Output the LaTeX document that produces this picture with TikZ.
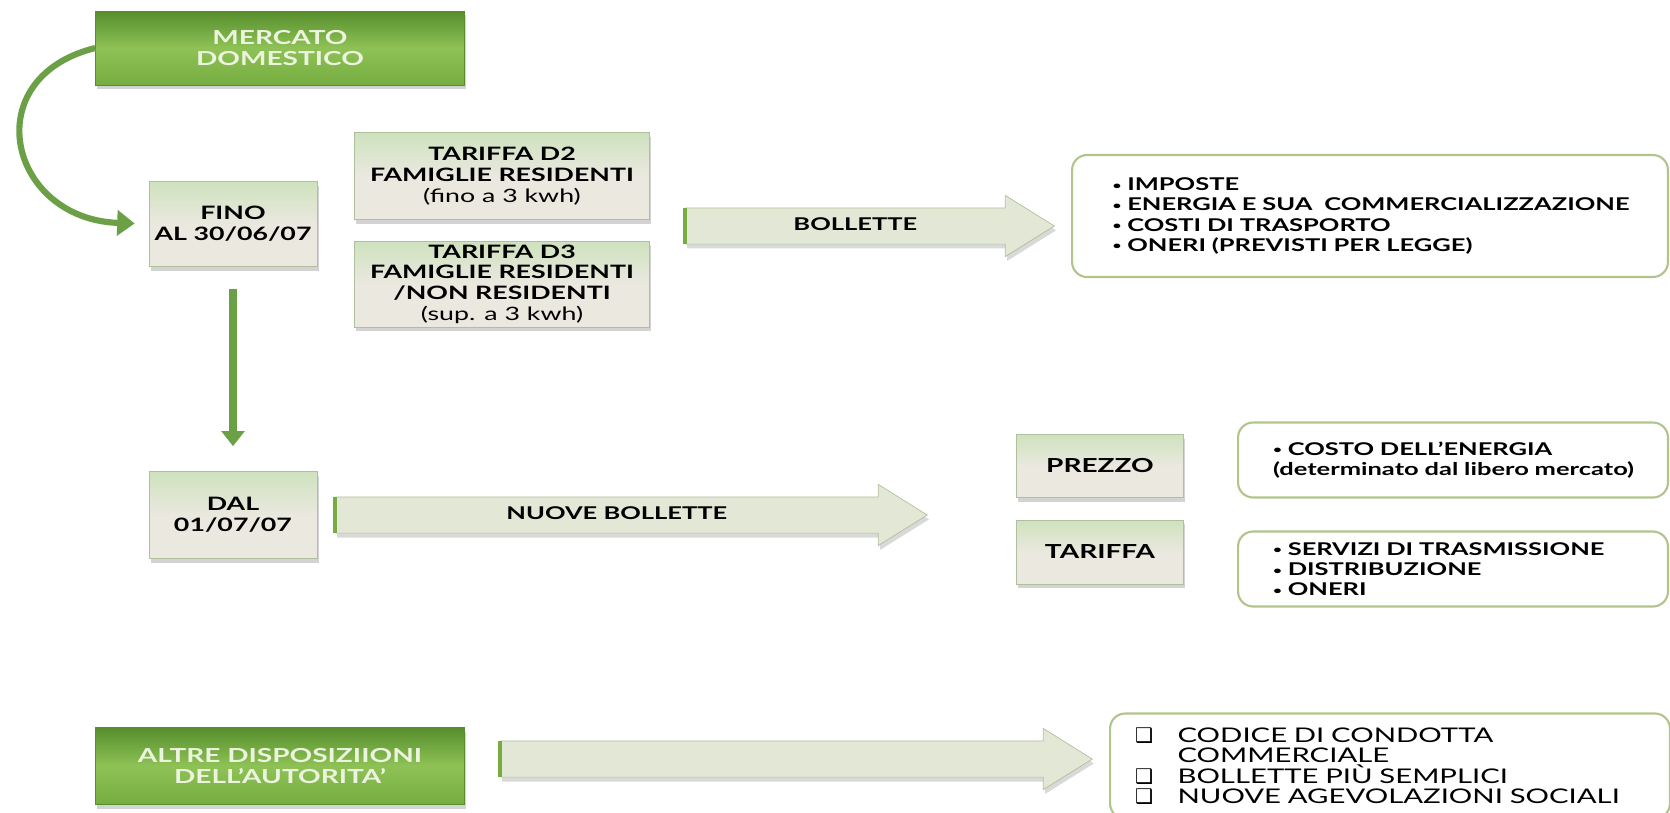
\documentclass[tikz,border=0pt]{standalone}
\usepackage{fontspec}
\usepackage{graphicx}
\setmainfont{Lato}[FakeStretch=1.45]
\newfontfamily\boxsym{DejaVu Sans}
\usetikzlibrary{shapes.arrows,shadows,arrows.meta}

\definecolor{leafdark}{RGB}{86,142,44}
\definecolor{leafmid}{RGB}{142,194,86}
\definecolor{leaflow}{RGB}{118,172,64}
\definecolor{leaftext}{RGB}{236,243,222}
\definecolor{paletop}{RGB}{206,226,190}
\definecolor{palebody}{RGB}{234,232,223}
\definecolor{paleline}{RGB}{176,192,156}
\definecolor{arrowbody}{RGB}{227,231,214}
\definecolor{listline}{RGB}{178,196,140}
\definecolor{curvegreen}{RGB}{108,160,70}

\newcommand\dotrow[1]{\mbox{\raisebox{0.15ex}{\scalebox{0.6}{•}}~#1}}
\newcommand\sqrow[1]{\mbox{\makebox[0.85cm][l]{\boxsym ❑}#1}}

\tikzset{
  greenbox/.style={draw=leafdark, top color=leafdark, bottom color=leaflow, middle color=leafmid,
    text=leaftext, align=center, font=\bfseries\fontsize{11}{12}\selectfont,
    drop shadow={shadow xshift=1pt, shadow yshift=-2.5pt, opacity=0.35}},
  greybox/.style={draw=paleline, top color=paletop, bottom color=palebody, middle color=palebody,
    align=center, font=\bfseries\fontsize{10.5}{11.8}\selectfont, inner sep=2pt,
    drop shadow={shadow xshift=1pt, shadow yshift=-2.5pt, opacity=0.35}},
  listbox/.style={draw=listline, line width=1.2pt, rounded corners=0.3cm, fill=white,
    align=left, font=\bfseries\fontsize{10}{11.5}\selectfont},
  flatarrow/.style={single arrow, draw=paleline, fill=arrowbody, anchor=tail,
    single arrow head extend=0.25cm, single arrow tip angle=64, minimum width=1.2cm,
    text height=0.25cm, text depth=0.08cm, inner ysep=0.19cm,
    font=\bfseries\fontsize{10}{11}\selectfont,
    drop shadow={shadow xshift=1pt, shadow yshift=-2.5pt, opacity=0.3}},
  tailline/.style={draw=leaflow, line width=2pt},
  bendarrow/.style={draw=curvegreen, line width=3.5pt, -{Triangle[width=0.5cm,length=0.35cm]},
    shorten >=0.28cm},
  downarrow/.style={draw=curvegreen, line width=5pt, -{Triangle[width=0.45cm,length=0.3cm]},
    shorten <=0.44cm, shorten >=0.5cm}
}

\begin{document}
\begin{tikzpicture}[x=0.02cm, y=-0.02cm]
\useasboundingbox (0,0) rectangle (1670,812);

\node[greenbox, minimum width=7.38cm, minimum height=1.48cm] (mercato) at (280,48) {MERCATO\\DOMESTICO};
\node[greybox, minimum width=3.36cm, minimum height=1.7cm] (fino) at (233,224) {FINO\\AL 30/06/07};
\node[greybox, minimum width=5.9cm, minimum height=1.74cm] (tard2) at (502,176)
  {TARIFFA D2\\FAMIGLIE RESIDENTI\\{\mdseries (fino a 3 kwh)}};
\node[greybox, minimum width=5.9cm, minimum height=1.72cm] (tard3) at (502,284)
  {TARIFFA D3\\FAMIGLIE RESIDENTI\\/NON RESIDENTI\\{\mdseries (sup. a 3 kwh)}};

\node[flatarrow, minimum height=7.38cm] (bollette) at (685,226) {BOLLETTE};
\draw[tailline] (bollette.before tail) -- (bollette.after tail);

\node[listbox, minimum width=11.92cm, minimum height=2.44cm, text width=10.3cm, inner xsep=0.8cm] (voci) at (1370,216)
  {\dotrow{IMPOSTE}\\\dotrow{ENERGIA E SUA~ COMMERCIALIZZAZIONE}\\\dotrow{COSTI DI TRASPORTO}\\\dotrow{ONERI (PREVISTI PER LEGGE)}};

\node[greybox, minimum width=3.36cm, minimum height=1.74cm] (dal) at (233,515) {DAL\\01/07/07};
\node[flatarrow, minimum height=11.84cm] (nuove) at (335,515) {NUOVE BOLLETTE};
\draw[tailline] (nuove.before tail) -- (nuove.after tail);

\node[greybox, minimum width=3.34cm, minimum height=1.26cm, font=\bfseries\fontsize{11}{13}\selectfont] (prezzo) at (1100,466) {PREZZO};
\node[greybox, minimum width=3.34cm, minimum height=1.28cm, font=\bfseries\fontsize{11}{13}\selectfont] (tariffa) at (1100,552) {TARIFFA};

\node[listbox, minimum width=8.6cm, minimum height=1.5cm, text width=7.2cm, inner xsep=0.68cm] (costo) at (1453,460)
  {\dotrow{COSTO DELL'ENERGIA}\\\mbox{(determinato dal libero mercato)}};
\node[listbox, minimum width=8.6cm, minimum height=1.5cm, text width=7.2cm, inner xsep=0.68cm] (servizi) at (1453,569)
  {\dotrow{SERVIZI DI TRASMISSIONE}\\\dotrow{DISTRIBUZIONE}\\\dotrow{ONERI}};

\node[greenbox, minimum width=7.38cm, minimum height=1.54cm] (altre) at (280,766) {ALTRE DISPOSIZIIONI\\DELL'AUTORITA'};
\node[flatarrow, minimum height=11.84cm] (altrefreccia) at (500,759) {};
\draw[tailline] (altrefreccia.before tail) -- (altrefreccia.after tail);

\node[listbox, minimum width=11.1cm, minimum height=2.1cm, text width=10.2cm, inner xsep=0.5cm,
  font=\mdseries\fontsize{11.5}{11.6}\selectfont] (misure) at (1390,766)
  {\sqrow{CODICE DI CONDOTTA}\\\hspace*{0.85cm}COMMERCIALE\\
   \sqrow{BOLLETTE PIÙ SEMPLICI}\\\sqrow{NUOVE AGEVOLAZIONI SOCIALI}};

\draw[bendarrow] (mercato.west) .. controls +(-120,30) and +(-140,-5) .. (fino.west);
\draw[downarrow] (fino.south) -- (dal.north);
\end{tikzpicture}
\end{document}
